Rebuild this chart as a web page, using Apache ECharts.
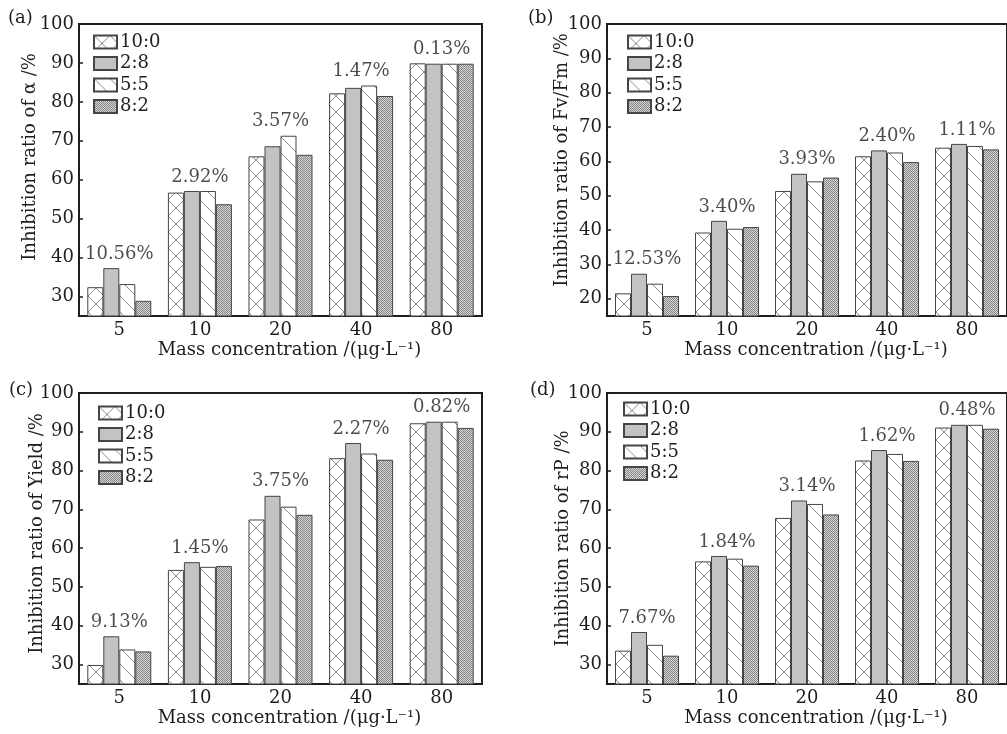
<!DOCTYPE html>
<html>
<head>
<meta charset="utf-8">
<script src="https://cdn.jsdelivr.net/npm/echarts@6/dist/echarts.min.js"></script>
<style>
  html, body { margin: 0; padding: 0; background: #fff; }
  #chart { width: 1007px; height: 734px; }
</style>
</head>
<body>
<div id="chart"></div>
<script>
// Mass concentrations (µg·L⁻¹) and mixing ratios
const categories = ['5', '10', '20', '40', '80'];
const ratios = ['10:0', '2:8', '5:5', '8:2'];

// (a) inhibition ratio of α (%)
const alpha_10_0 = [32.4, 56.7, 66.0, 82.2, 89.9];
const alpha_2_8  = [37.3, 57.1, 68.6, 83.6, 89.8];
const alpha_5_5  = [33.2, 57.1, 71.3, 84.2, 89.8];
const alpha_8_2  = [28.9, 53.7, 66.4, 81.5, 89.8];
const alphaCv    = ['10.56%', '2.92%', '3.57%', '1.47%', '0.13%'];

// (b) inhibition ratio of Fv/Fm (%)
const fvfm_10_0 = [21.6, 39.3, 51.4, 61.5, 64.0];
const fvfm_2_8  = [27.3, 42.7, 56.4, 63.2, 65.1];
const fvfm_5_5  = [24.4, 40.4, 54.2, 62.6, 64.5];
const fvfm_8_2  = [20.8, 40.9, 55.3, 59.8, 63.5];
const fvfmCv    = ['12.53%', '3.40%', '3.93%', '2.40%', '1.11%'];

// (c) inhibition ratio of Yield (%)
const yield_10_0 = [29.9, 54.4, 67.4, 83.2, 92.2];
const yield_2_8  = [37.3, 56.4, 73.5, 87.1, 92.6];
const yield_5_5  = [33.9, 55.2, 70.7, 84.4, 92.6];
const yield_8_2  = [33.4, 55.4, 68.6, 82.8, 91.0];
const yieldCv    = ['9.13%', '1.45%', '3.75%', '2.27%', '0.82%'];

// (d) inhibition ratio of rP (%)
const rp_10_0 = [33.6, 56.6, 67.8, 82.6, 91.1];
const rp_2_8  = [38.4, 58.0, 72.3, 85.3, 91.8];
const rp_5_5  = [35.1, 57.3, 71.4, 84.3, 91.8];
const rp_8_2  = [32.3, 55.5, 68.7, 82.5, 90.8];
const rpCv    = ['7.67%', '1.84%', '3.14%', '1.62%', '0.48%'];

// y-axis tick labels
const ticksA = [30, 40, 50, 60, 70, 80, 90, 100];
const ticksB = [20, 30, 40, 50, 60, 70, 80, 90, 100];

const FONT = 'DejaVu Serif';
const FS = 18;
const INK = '#1e1e1e';

// ---- hatch fills ----
function makeTile(size, draw) {
  const c = document.createElement('canvas');
  c.width = size; c.height = size;
  const g = c.getContext('2d');
  g.fillStyle = '#ffffff';
  g.fillRect(0, 0, size, size);
  draw(g, size);
  return c;
}
const crossTile = makeTile(16, (g, s) => {
  g.strokeStyle = '#8c8c8c'; g.lineWidth = 1;
  g.beginPath();
  g.moveTo(-2, -2); g.lineTo(s + 2, s + 2);
  g.moveTo(s + 2, -2); g.lineTo(-2, s + 2);
  g.stroke();
});
const backTile = makeTile(16, (g, s) => {
  g.strokeStyle = '#8c8c8c'; g.lineWidth = 1;
  g.beginPath();
  g.moveTo(-2, -2); g.lineTo(s + 2, s + 2);
  g.moveTo(-2 - s, -2); g.lineTo(2, s + 2);
  g.moveTo(s - 2, -2); g.lineTo(2 * s + 2, s + 2);
  g.stroke();
});
const dotTile = makeTile(2, (g) => {
  g.fillStyle = '#d8d8d8'; g.fillRect(0, 0, 2, 2);
  g.fillStyle = '#848484'; g.fillRect(0, 0, 1, 1); g.fillRect(1, 1, 1, 1);
});

const fills = [
  { image: crossTile, repeat: 'repeat' },
  '#c3c3c3',
  { image: backTile, repeat: 'repeat' },
  { image: dotTile, repeat: 'repeat' }
];

const panels = [
  { tag: '(a)', name: 'Inhibition ratio of α /%', min: 25, ticks: ticksA,
    series: [alpha_10_0, alpha_2_8, alpha_5_5, alpha_8_2], cv: alphaCv,
    grid: { left: 79, top: 24, width: 403, height: 292 },
    nameGap: 40, nameShift: 26, tagPos: [8, 20], legendPos: [93, 33] },
  { tag: '(b)', name: 'Inhibition ratio of Fv/Fm /%', min: 15, ticks: ticksB,
    series: [fvfm_10_0, fvfm_2_8, fvfm_5_5, fvfm_8_2], cv: fvfmCv,
    grid: { left: 607, top: 24, width: 408, height: 292 },
    nameGap: 36, nameShift: 20, tagPos: [528, 20], legendPos: [627, 33] },
  { tag: '(c)', name: 'Inhibition ratio of Yield /%', min: 25, ticks: ticksA,
    series: [yield_10_0, yield_2_8, yield_5_5, yield_8_2], cv: yieldCv,
    grid: { left: 79, top: 393, width: 403, height: 291 },
    nameGap: 33, nameShift: 10, tagPos: [9, 392], legendPos: [98, 404] },
  { tag: '(d)', name: 'Inhibition ratio of rP /%', min: 25, ticks: ticksA,
    series: [rp_10_0, rp_2_8, rp_5_5, rp_8_2], cv: rpCv,
    grid: { left: 607, top: 393, width: 408, height: 291 },
    nameGap: 35, nameShift: 0, tagPos: [530, 392], legendPos: [623, 400] }
];

const option = {
  backgroundColor: '#ffffff',
  animation: false,
  textStyle: { fontFamily: FONT, color: INK },
  grid: [], xAxis: [], yAxis: [], series: [], legend: [], graphic: []
};

panels.forEach((p, i) => {
  option.grid.push(Object.assign({
    show: true, borderColor: INK, borderWidth: 2, backgroundColor: 'transparent',
    containLabel: false
  }, p.grid));

  option.xAxis.push({
    type: 'category', gridIndex: i, data: categories,
    axisLine: { lineStyle: { color: INK, width: 2 } },
    axisTick: { show: false },
    axisLabel: { fontFamily: FONT, fontSize: FS, color: INK, margin: 5 },
    name: 'Mass concentration /(μg·L⁻¹)', nameLocation: 'middle', nameGap: 25,
    nameMoveOverlap: false,
    nameTextStyle: { fontFamily: FONT, fontSize: FS, color: INK, padding: [0, 0, 0, 18] }
  });

  option.yAxis.push({
    type: 'value', gridIndex: i, min: p.min, max: 100,
    splitLine: { show: false },
    axisLine: { show: true, lineStyle: { color: INK, width: 2 } },
    axisTick: { show: true, inside: true, length: 4, customValues: p.ticks,
                lineStyle: { color: INK, width: 1.5 } },
    axisLabel: { fontFamily: FONT, fontSize: FS, color: INK, margin: 5, customValues: p.ticks },
    name: p.name, nameLocation: 'middle', nameGap: p.nameGap, nameRotate: 90,
    nameMoveOverlap: false,
    nameTextStyle: { fontFamily: FONT, fontSize: FS, color: INK, padding: [0, 0, 0, p.nameShift] }
  });

  p.series.forEach((vals, k) => {
    option.series.push({
      type: 'bar', name: ratios[k], xAxisIndex: i, yAxisIndex: i,
      data: vals, barWidth: 16, barGap: '0%',
      itemStyle: { color: fills[k], borderColor: '#454545', borderWidth: 1 },
      emphasis: { disabled: true }
    });
  });

  // variation labels sit above the tallest bar of each group
  const tops = categories.map((c, j) => Math.max(...p.series.map(s => s[j])));
  option.series.push({
    type: 'scatter', xAxisIndex: i, yAxisIndex: i, data: tops,
    symbolSize: 0, silent: true, z: 5,
    label: {
      show: true, position: 'top', distance: 5,
      fontFamily: FONT, fontSize: FS, color: INK,
      backgroundColor: '#ffffff',
      formatter: (d) => p.cv[d.dataIndex]
    }
  });

  option.legend.push({
    orient: 'vertical', left: p.legendPos[0], top: p.legendPos[1],
    itemWidth: 23, itemHeight: 13, itemGap: 3.5,
    data: ratios, icon: 'rect', backgroundColor: '#ffffff', padding: 0,
    textStyle: { fontFamily: FONT, fontSize: FS, lineHeight: 18, color: INK, padding: [0, 0, 0, -2] }
  });

  option.graphic.push({
    type: 'text', left: p.tagPos[0], top: p.tagPos[1] - 11,
    style: { text: p.tag, font: FS + 'px "' + FONT + '"', fill: INK }
  });
});

const chart = echarts.init(document.getElementById('chart'), null, { renderer: 'canvas' });
chart.setOption(option);
</script>
</body>
</html>
